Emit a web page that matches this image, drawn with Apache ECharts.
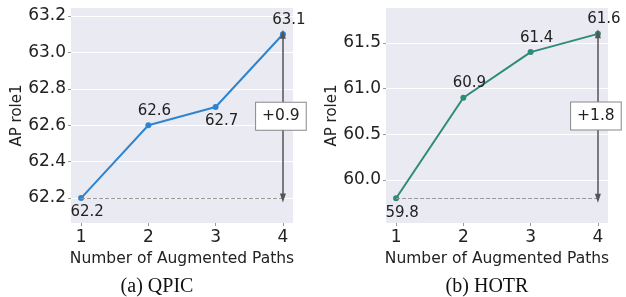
<!DOCTYPE html>
<html>
<head>
<meta charset="utf-8">
<script src="https://cdn.jsdelivr.net/npm/echarts@6/dist/echarts.min.js"></script>
<style>
  html, body { margin: 0; padding: 0; background: #fff; }
  #main { width: 626px; height: 297px; }
</style>
</head>
<body>
<div id="main"></div>
<script>
// data
var paths = [1, 2, 3, 4];
var qpicAP = [62.2, 62.6, 62.7, 63.1];
var hotrAP = [59.8, 60.9, 61.4, 61.6];
var qpicLabelPos = ["bottom", "top", "bottom", "top"];
var hotrLabelPos = ["bottom", "top", "top", "top"];
var qpicTicks = [62.2, 62.4, 62.6, 62.8, 63.0, 63.2];
var hotrTicks = [60.0, 60.5, 61.0, 61.5];
var captions = ["(a) QPIC", "(b) HOTR"];

var font = "DejaVu Sans";
var myChart = echarts.init(document.getElementById("main"));

function yAxis(idx, min, max, ticks) {
  return {
    type: "value", gridIndex: idx, min: min, max: max,
    name: "AP role1", nameLocation: "middle", nameGap: 44,
    nameTextStyle: { fontFamily: font, fontSize: 15, color: "#222" },
    axisLine: { show: false },
    axisTick: { show: true, length: 3, lineStyle: { color: "#999" }, customValues: ticks },
    axisLabel: { fontFamily: font, fontSize: 17, color: "#222", margin: 5, customValues: ticks,
      formatter: function (v) { return v.toFixed(1); } },
    splitLine: { show: true, lineStyle: { color: "#fff", width: 1 } }
  };
}

function xAxis(idx) {
  return {
    type: "value", gridIndex: idx, min: 0.85, max: 4.15,
    name: "Number of Augmented Paths", nameLocation: "middle", nameGap: 24,
    nameTextStyle: { fontFamily: font, fontSize: 15.5, color: "#222" },
    axisLine: { show: false },
    axisTick: { show: true, length: 3, lineStyle: { color: "#999" }, customValues: paths },
    axisLabel: { fontFamily: font, fontSize: 17, color: "#222", margin: 6, customValues: paths },
    splitLine: { show: false }
  };
}

function lineSeries(idx, vals, pos, color) {
  var first = vals[0], last = vals[vals.length - 1];
  var xLast = paths[paths.length - 1];
  var gain = "+" + (last - first).toFixed(1);
  return {
    type: "line", xAxisIndex: idx, yAxisIndex: idx,
    data: vals.map(function (v, i) {
      return { value: [paths[i], v], label: { position: pos[i] } };
    }),
    symbol: "circle", symbolSize: 6,
    lineStyle: { color: color, width: 2 },
    itemStyle: { color: color },
    label: { show: true, fontFamily: font, fontSize: 15, color: "#222", distance: 4, offset: [6, 0],
      formatter: function (p) { return p.value[1].toFixed(1); } },
    z: 3,
    markLine: {
      silent: true, animation: false,
      label: { show: false },
      data: [
        [{ coord: [paths[0], first], symbol: "none", lineStyle: { type: [4, 2], color: "#999", width: 1 } },
         { coord: [xLast, first], symbol: "none" }],
        [{ coord: [xLast, first], symbol: "triangle", symbolSize: [6, 9], symbolRotate: 180,
           lineStyle: { type: "solid", color: "#555", width: 1.5 } },
         { coord: [xLast, last], symbol: "triangle", symbolSize: [6, 9] }]
      ]
    },
    markPoint: {
      silent: true, animation: false,
      symbol: "rect", symbolSize: 1,
      itemStyle: { color: "transparent" },
      label: { show: true, position: "inside", formatter: gain, fontFamily: font, fontSize: 15.5,
        color: "#222", backgroundColor: "#fff", borderColor: "#888", borderWidth: 1,
        padding: [6, 6, 5, 6], offset: [-2, 0] },
      data: [{ coord: [xLast, (first + last) / 2] }]
    }
  };
}

myChart.setOption({
  animation: false,
  grid: [
    { left: 71, top: 8, width: 222, height: 215, show: true, backgroundColor: "#eaeaf2", borderWidth: 0 },
    { left: 386, top: 8, width: 222, height: 215, show: true, backgroundColor: "#eaeaf2", borderWidth: 0 }
  ],
  xAxis: [xAxis(0), xAxis(1)],
  yAxis: [yAxis(0, 62.063, 63.244, qpicTicks), yAxis(1, 59.529, 61.883, hotrTicks)],
  series: [
    lineSeries(0, qpicAP, qpicLabelPos, "#2f84d0"),
    lineSeries(1, hotrAP, hotrLabelPos, "#2e8b7a")
  ],
  graphic: [
    { type: "text", x: 157, y: 287, style: { text: captions[0], font: "20px 'Liberation Serif'", fill: "#111",
      textAlign: "center", textVerticalAlign: "middle" } },
    { type: "text", x: 487, y: 287, style: { text: captions[1], font: "20px 'Liberation Serif'", fill: "#111",
      textAlign: "center", textVerticalAlign: "middle" } }
  ]
});
</script>
</body>
</html>
